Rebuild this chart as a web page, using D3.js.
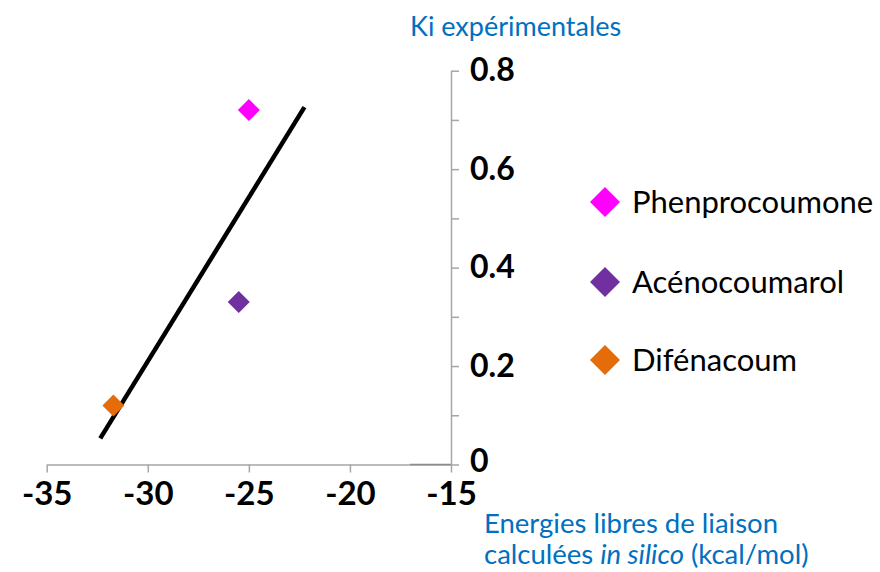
<!DOCTYPE html>
<html><head><meta charset="utf-8">
<script src="https://cdn.jsdelivr.net/npm/d3@7"></script>
<style>
html,body{margin:0;padding:0;background:#fff;}
svg{display:block;}
</style></head>
<body>
<svg id="chart" width="880" height="572"></svg>
<script>
// ---- data ----
const compounds = ["Phenprocoumone", "Acénocoumarol", "Difénacoum"];
const energies = [-25.0, -25.5, -31.7];
const kiValues = [0.72, 0.33, 0.12];
const colors = ["#FF00FF", "#7030A0", "#E46C0A"];
const trendX = [-32.35, -22.25];
const trendY = [0.053, 0.726];
const xTicks = [-35, -30, -25, -20, -15];
const yTicks = [0, 0.1, 0.2, 0.3, 0.4, 0.5, 0.6, 0.7, 0.8];
const yLabels = ["0", "0.2", "0.4", "0.6", "0.8"];

const svg = d3.select("#chart");
const x = d3.scaleLinear().domain([-35, -15]).range([46.7, 451]);
const y = d3.scaleLinear().domain([0, 0.8]).range([464.5, 70.7]);
const axisColor = "#a6a6a6";
const font = "Lato, 'Open Sans', sans-serif";

// x axis
const xAxis = d3.axisBottom(x).tickValues(xTicks).tickSize(8).tickSizeOuter(0)
  .tickFormat(d => d3.format("d")(d).replace("−", "-"));
const gx = svg.append("g").attr("transform", `translate(0,${y(0)})`).call(xAxis);
gx.select(".domain").attr("stroke", axisColor).attr("stroke-width", 1.5);
gx.selectAll(".tick line").attr("stroke", axisColor).attr("stroke-width", 1.5);
gx.selectAll(".tick text").attr("fill", "#000").attr("font-family", font)
  .attr("font-weight", "bold").attr("font-size", 33).attr("y", 40).attr("dy", 0);

// darker segment near the y axis
svg.append("line").attr("x1", 410).attr("x2", x(-15)).attr("y1", y(0)).attr("y2", y(0))
  .attr("stroke", "#8c8c8c").attr("stroke-width", 1.5);

// y axis
const yAxis = d3.axisRight(y).tickValues(yTicks).tickSize(8).tickSizeOuter(0)
  .tickFormat(d => { const s = d3.format(".1f")(d); return s === "0.0" ? "0" : s; });
const gy = svg.append("g").attr("transform", `translate(${x(-15)},0)`).call(yAxis);
gy.select(".domain").attr("stroke", axisColor).attr("stroke-width", 1.5);
gy.selectAll(".tick line").attr("stroke", axisColor).attr("stroke-width", 1.5);
gy.selectAll(".tick text").attr("fill", "#000").attr("font-family", font)
  .attr("font-weight", "bold").attr("font-size", 32).attr("x", 19)
  .attr("y", d => d === 0 ? -3 : 0)
  .style("display", function() { return yLabels.includes(d3.select(this).text()) ? null : "none"; });

// trend line
svg.append("line")
  .attr("x1", x(trendX[0])).attr("y1", y(trendY[0]))
  .attr("x2", x(trendX[1])).attr("y2", y(trendY[1]))
  .attr("stroke", "#000").attr("stroke-width", 4.5);

// points
const diamond = (r) => `M0,${-r}L${r},0L0,${r}L${-r},0Z`;
svg.selectAll(".pt").data(compounds).enter().append("path")
  .attr("class", "pt")
  .attr("d", diamond(11))
  .attr("transform", (d, i) => `translate(${x(energies[i])},${y(kiValues[i])})`)
  .attr("fill", (d, i) => colors[i]);

// legend
const legY = [202, 282, 360];
const lg = svg.selectAll(".leg").data(compounds).enter().append("g")
  .attr("transform", (d, i) => `translate(605,${legY[i]})`);
lg.append("path").attr("d", diamond(15)).attr("fill", (d, i) => colors[i]);
lg.append("text").attr("x", 27).attr("y", 11).text(d => d)
  .attr("font-family", font).attr("font-size", 31).attr("fill", "#000");

// titles
svg.append("text").attr("x", 410).attr("y", 36).text("Ki expérimentales")
  .attr("font-family", font).attr("font-size", 27).attr("fill", "#0070C0");
const xt = svg.append("text").attr("font-family", font).attr("font-size", 27.5).attr("fill", "#0070C0");
xt.append("tspan").attr("x", 484).attr("y", 533).text("Energies libres de liaison");
const l2 = xt.append("tspan").attr("x", 484).attr("y", 564);
l2.append("tspan").text("calculées ");
l2.append("tspan").attr("font-style", "italic").text("in silico");
l2.append("tspan").text(" (kcal/mol)");
</script>
</body></html>
